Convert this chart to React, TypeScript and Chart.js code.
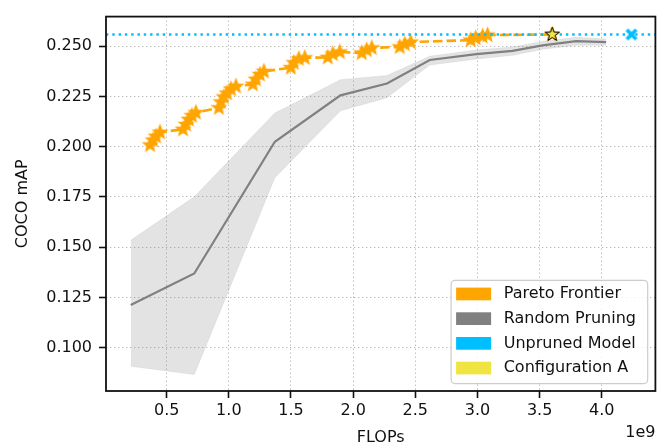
import React, { useEffect, useRef } from 'react';
import { Chart, registerables } from 'chart.js';

Chart.register(...registerables);

// ---- data (FLOPs in units of 1e9) ----
const X_TICKS = [0.5, 1.0, 1.5, 2.0, 2.5, 3.0, 3.5, 4.0];
const Y_TICKS = [0.1, 0.125, 0.15, 0.175, 0.2, 0.225, 0.25];
const X_RANGE = [0.012, 4.431];
const Y_RANGE = [0.0784, 0.2648];
const X_TITLE = 'FLOPs';
const Y_TITLE = 'COCO mAP';
const X_OFFSET_TEXT = '1e9';

const PARETO_FLOPS = [
  0.366, 0.390, 0.414, 0.446,
  0.631, 0.655, 0.679, 0.703, 0.735,
  0.920, 0.936, 0.960, 0.985, 1.017, 1.057,
  1.193, 1.217, 1.250, 1.282,
  1.499, 1.523, 1.563, 1.611,
  1.796, 1.836, 1.893,
  2.069, 2.109, 2.150,
  2.375, 2.415, 2.463,
  2.945, 2.985, 3.041, 3.081,
  3.601,
];
const PARETO_MAP = [
  0.2009, 0.2033, 0.2052, 0.2072,
  0.2087, 0.2111, 0.2136, 0.2155, 0.2170,
  0.2194, 0.2223, 0.2248, 0.2267, 0.2287, 0.2301,
  0.2311, 0.2336, 0.2360, 0.2375,
  0.2394, 0.2418, 0.2438, 0.2443,
  0.2445, 0.2462, 0.2472,
  0.2467, 0.2482, 0.2492,
  0.2497, 0.2511, 0.2521,
  0.2531, 0.2541, 0.2550, 0.2556,
  0.2559,
];

const RANDOM_FLOPS = [0.211, 0.722, 1.370, 1.898, 2.272, 2.616, 2.991, 3.282, 3.523, 3.794, 4.035];
const RANDOM_MEAN = [0.1212, 0.1369, 0.2025, 0.2256, 0.2315, 0.2432, 0.2461, 0.2477, 0.2505, 0.2526, 0.2521];
const RANDOM_LOW = [0.0907, 0.0866, 0.1846, 0.2179, 0.2244, 0.2407, 0.2437, 0.2455, 0.2485, 0.2505, 0.2505];
const RANDOM_HIGH = [0.1534, 0.1751, 0.2168, 0.2334, 0.2355, 0.2451, 0.2482, 0.2497, 0.2524, 0.2545, 0.2537];

const UNPRUNED_FLOPS = [4.239];
const UNPRUNED_MAP = [0.2559];
const CONFIG_A_FLOPS = [3.601];
const CONFIG_A_MAP = [0.2559];

const LEGEND_LABELS = ['Pareto Frontier', 'Random Pruning', 'Unpruned Model', 'Configuration A'];
const LEGEND_COLORS = ['#FFA500', '#808080', '#00BFFF', '#F0E442'];

const FONT = '"DejaVu Sans", sans-serif';
const TEXT_COLOR = '#111111';

function makeStar(R: number, r: number, fill: string, stroke: string, lw: number) {
  const size = Math.ceil(2 * R + lw * 2 + 2);
  const c = document.createElement('canvas');
  c.width = size;
  c.height = size;
  const ctx = c.getContext('2d')!;
  const cx = size / 2;
  const cy = size / 2;
  ctx.beginPath();
  for (let i = 0; i < 10; i++) {
    const rad = i % 2 === 0 ? R : r;
    const a = -Math.PI / 2 + (i * Math.PI) / 5;
    const px = cx + rad * Math.cos(a);
    const py = cy + rad * Math.sin(a);
    if (i === 0) ctx.moveTo(px, py);
    else ctx.lineTo(px, py);
  }
  ctx.closePath();
  ctx.fillStyle = fill;
  ctx.fill();
  if (lw > 0) {
    ctx.lineWidth = lw;
    ctx.strokeStyle = stroke;
    ctx.lineJoin = 'miter';
    ctx.stroke();
  }
  return c;
}

function makeX(s: number, color: string) {
  const size = Math.ceil(s + 4);
  const c = document.createElement('canvas');
  c.width = size;
  c.height = size;
  const ctx = c.getContext('2d')!;
  const o = (size - s) / 2;
  ctx.strokeStyle = color;
  ctx.lineWidth = s * 0.4;
  ctx.lineCap = 'butt';
  ctx.beginPath();
  ctx.moveTo(o, o);
  ctx.lineTo(o + s, o + s);
  ctx.moveTo(o + s, o);
  ctx.lineTo(o, o + s);
  ctx.stroke();
  return c;
}

const pts = (xs: number[], ys: number[]) => xs.map((x, i) => ({ x, y: ys[i] }));

const decorPlugin = {
  id: 'decor',
  afterDatasetsDraw(chart: any) {
    const { ctx, chartArea: ca } = chart;
    ctx.save();
    ctx.strokeStyle = '#111';
    ctx.lineWidth = 1.8;
    ctx.setLineDash([]);
    ctx.strokeRect(ca.left, ca.top, ca.right - ca.left, ca.bottom - ca.top);
    ctx.restore();
  },
  afterDraw(chart: any) {
    const { ctx, chartArea: ca } = chart;
    ctx.save();
    const w = 196.6;
    const h = 103.3;
    const fx = ca.right - 7.7 - w;
    const fy = ca.bottom - 7.4 - h;
    ctx.beginPath();
    if ((ctx as any).roundRect) (ctx as any).roundRect(fx, fy, w, h, 4);
    else ctx.rect(fx, fy, w, h);
    ctx.fillStyle = 'rgba(255,255,255,0.8)';
    ctx.fill();
    ctx.strokeStyle = '#cccccc';
    ctx.lineWidth = 1.2;
    ctx.stroke();
    ctx.font = `16px ${FONT}`;
    ctx.textBaseline = 'middle';
    ctx.textAlign = 'left';
    LEGEND_LABELS.forEach((label, i) => {
      const py = fy + 7.3 + i * 24.7;
      ctx.fillStyle = LEGEND_COLORS[i];
      ctx.fillRect(fx + 5, py, 35, 12.7);
      ctx.fillStyle = TEXT_COLOR;
      ctx.fillText(label, fx + 52.6, py + 6.6);
    });
    ctx.textAlign = 'right';
    ctx.fillText(X_OFFSET_TEXT, ca.right, ca.bottom + 42);
    ctx.restore();
  },
};

export default function App() {
  const ref = useRef<HTMLCanvasElement | null>(null);

  useEffect(() => {
    document.body.style.margin = '0';
    const canvas = ref.current!;
    const orangeStar = makeStar(7.2, 3.1, '#FFA500', '#FFA500', 1.2);
    const yellowStar = makeStar(7.4, 3.0, '#F0E442', '#000000', 1);
    const cyanX = makeX(9.5, '#00BFFF');

    const tickCommon = {
      color: TEXT_COLOR,
      font: { family: FONT, size: 16 },
      includeBounds: false,
    };
    const gridCommon = {
      color: '#b8b8b8',
      lineWidth: 1,
      drawTicks: true,
      tickLength: 7,
      tickColor: '#111',
      tickWidth: 1.6,
      tickBorderDash: [],
    };

    const chart = new Chart(canvas, {
      type: 'line',
      data: {
        datasets: [
          {
            label: 'band_low',
            data: pts(RANDOM_FLOPS, RANDOM_LOW),
            borderColor: 'rgba(128,128,128,0.12)',
            borderWidth: 1,
            pointRadius: 0,
            fill: false,
            order: 6,
          },
          {
            label: 'band_high',
            data: pts(RANDOM_FLOPS, RANDOM_HIGH),
            borderColor: 'rgba(128,128,128,0.12)',
            borderWidth: 1,
            pointRadius: 0,
            backgroundColor: 'rgba(128,128,128,0.22)',
            fill: '-1',
            order: 5,
          },
          {
            label: 'Random Pruning',
            data: pts(RANDOM_FLOPS, RANDOM_MEAN),
            borderColor: '#808080',
            borderWidth: 2.2,
            pointRadius: 0,
            fill: false,
            order: 4,
          },
          {
            label: 'Pareto Frontier',
            data: pts(PARETO_FLOPS, PARETO_MAP),
            borderColor: '#FFA500',
            borderWidth: 2.6,
            borderDash: [9.5, 4],
            pointStyle: orangeStar as any,
            pointRadius: 6,
            fill: false,
            order: 3,
          },
          {
            label: 'Unpruned line',
            data: pts(X_RANGE, [UNPRUNED_MAP[0], UNPRUNED_MAP[0]]),
            borderColor: '#00BFFF',
            borderWidth: 2.6,
            borderDash: [2.4, 3.9],
            pointRadius: 0,
            fill: false,
            order: 2,
          },
          {
            label: 'Unpruned Model',
            data: pts(UNPRUNED_FLOPS, UNPRUNED_MAP),
            showLine: false,
            pointStyle: cyanX as any,
            pointRadius: 5,
            fill: false,
            order: 1,
          },
          {
            label: 'Configuration A',
            data: pts(CONFIG_A_FLOPS, CONFIG_A_MAP),
            showLine: false,
            pointStyle: yellowStar as any,
            pointRadius: 7,
            fill: false,
            order: 0,
          },
        ],
      },
      options: {
        animation: false,
        responsive: false,
        events: [],
        layout: { padding: { top: 9, right: 8, left: 0, bottom: 0 } },
        elements: { line: { tension: 0 } },
        plugins: {
          legend: { display: false },
          tooltip: { enabled: false },
        },
        scales: {
          x: {
            type: 'linear',
            min: X_RANGE[0],
            max: X_RANGE[1],
            afterFit: (s: any) => { s.height = 57; },
            afterBuildTicks: (s: any) => { s.ticks = X_TICKS.map((v) => ({ value: v })); },
            ticks: { ...tickCommon, padding: 3, maxRotation: 0, autoSkip: false, callback: (v: any) => Number(v).toFixed(1) },
            grid: gridCommon,
            border: { display: false, dash: [1.3, 2.7] },
            title: { display: true, text: X_TITLE, color: TEXT_COLOR, font: { family: FONT, size: 16 }, padding: { top: 0, bottom: 1 } },
          },
          y: {
            type: 'linear',
            min: Y_RANGE[0],
            max: Y_RANGE[1],
            afterFit: (s: any) => { s.width = 106; },
            afterBuildTicks: (s: any) => { s.ticks = Y_TICKS.map((v) => ({ value: v })); },
            ticks: { ...tickCommon, padding: 7, autoSkip: false, callback: (v: any) => Number(v).toFixed(3) },
            grid: gridCommon,
            border: { display: false, dash: [1.3, 2.7] },
            title: { display: true, text: Y_TITLE, color: TEXT_COLOR, font: { family: FONT, size: 16 }, padding: { top: 13, bottom: 0 } },
          },
        },
      },
      plugins: [decorPlugin],
    } as any);

    return () => chart.destroy();
  }, []);

  return <canvas ref={ref} width={664} height={448} style={{ display: 'block' }} />;
}
